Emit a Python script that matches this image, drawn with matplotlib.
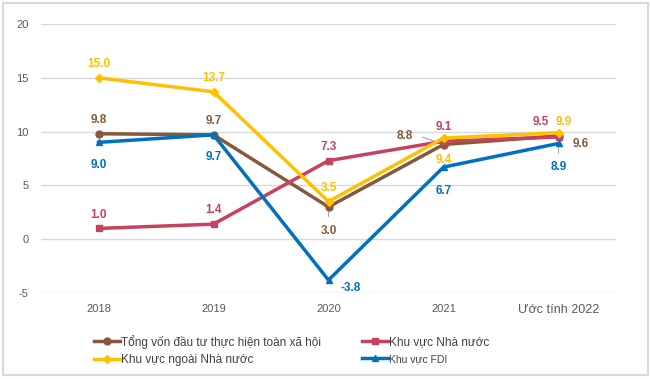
import matplotlib
matplotlib.use("Agg")
import matplotlib.pyplot as plt
from matplotlib.patches import Rectangle

plt.rcParams["font.family"] = ["Liberation Sans", "DejaVu Sans"]
plt.rcParams["axes.unicode_minus"] = False

years = ["2018", "2019", "2020", "2021", "Ước tính 2022"]
tong = [9.8, 9.7, 3.0, 8.8, 9.6]
nha_nuoc = [1.0, 1.4, 7.3, 9.1, 9.5]
ngoai_nn = [15.0, 13.7, 3.5, 9.4, 9.9]
fdi = [9.0, 9.7, -3.8, 6.7, 8.9]

names = ["Tổng vốn đầu tư thực hiện toàn xã hội", "Khu vực Nhà nước",
         "Khu vực ngoài Nhà nước", "Khu vực FDI"]
colors = ["#855A3C", "#C8415E", "#FFC000", "#0070C0"]

fig = plt.figure(figsize=(6.5, 3.79), dpi=100)
ax = fig.add_axes([41 / 650, 1 - 293 / 379, (616 - 41) / 650, (293 - 24) / 379])

x = list(range(len(years)))
l_tong, = ax.plot(x, tong, color=colors[0], lw=2.5, marker="o", ms=5, zorder=3)
l_nn, = ax.plot(x, nha_nuoc, color=colors[1], lw=2.5, marker="s", ms=5, zorder=4)
l_ng, = ax.plot(x, ngoai_nn, color=colors[2], lw=2.5, marker="D", ms=4, zorder=5)
l_fdi, = ax.plot(x, fdi, color=colors[3], lw=2.5, marker="^", ms=5, zorder=6)

# label offsets (points) per series
offs = {
    0: [(0, 10), (0, 10), (0, -17), (-28, 6), (16, -6)],
    1: [(0, 10), (0, 10), (0, 10), (0, 10), (-13, 11)],
    2: [(0, 10), (0, 10), (0, 10), (0, -16), (4, 8)],
    3: [(0, -16), (0, -16), (16, -6), (0, -17), (0, -17)],
}
for si, vals in enumerate([tong, nha_nuoc, ngoai_nn, fdi]):
    for i, v in enumerate(vals):
        dx, dy = offs[si][i]
        ax.annotate(f"{v:.1f}", (i, v), xytext=(dx, dy), textcoords="offset points",
                    ha="center", va="center", fontsize=8.5, fontweight="bold",
                    color=colors[si], zorder=7)

# leader lines
grey = dict(arrowstyle="-", color="#a6a6a6", lw=0.8)
ax.annotate("", (3, tong[3]), xytext=(-17, 6), textcoords="offset points",
            arrowprops=grey, zorder=2)
ax.annotate("", (2, tong[2]), xytext=(0, -9), textcoords="offset points",
            arrowprops=grey, zorder=2)
ax.annotate("", (4, fdi[4]), xytext=(0, -9), textcoords="offset points",
            arrowprops=grey, zorder=2)

ax.set_xlim(-0.5, 4.5)
ax.set_ylim(-5, 20)
ax.set_yticks([-5, 0, 5, 10, 15, 20])
ax.set_xticks(x)
ax.set_xticklabels(years)
ax.grid(axis="y", color="#d9d9d9", lw=1)
ax.set_axisbelow(True)
for s in ax.spines.values():
    s.set_visible(False)
ax.tick_params(length=0, labelsize=8, colors="#595959")
ax.tick_params(axis="y", pad=9)
ax.tick_params(axis="x", pad=8)
ax.get_xticklabels()[-1].set_fontsize(9)

leg = fig.legend([l_tong, l_ng, l_nn, l_fdi],
                 [names[0], names[2], names[1], names[3]],
                 ncol=2, loc="upper left", bbox_to_anchor=(83 / 650, 1 - 324 / 379),
                 frameon=False, fontsize=8.5, handlelength=2.2, handletextpad=0.1,
                 columnspacing=3.5, labelspacing=0.45, labelcolor="#404040")
leg.get_texts()[3].set_fontsize(7.5)

fig.add_artist(Rectangle((3 / 650, 4 / 379), 645 / 650, 372 / 379, transform=fig.transFigure,
                         fill=False, edgecolor="#d9d9d9", lw=1.5))

fig.savefig("out.png", dpi=100)
